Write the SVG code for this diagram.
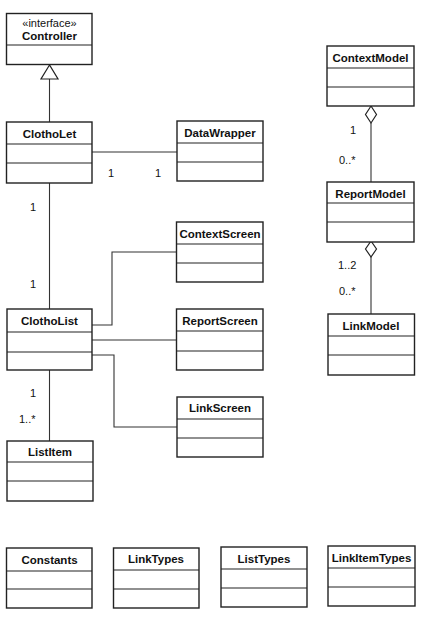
<svg xmlns="http://www.w3.org/2000/svg" width="426" height="627" viewBox="0 0 426 627">
<style>
.box{fill:#fff;stroke:#222;stroke-width:1.4}
.div{stroke:#222;stroke-width:1.2}
.nm{font-family:"Liberation Sans",Arial,sans-serif;font-weight:bold;font-size:11.5px;fill:#111;text-anchor:middle}
.st{font-family:"Liberation Sans",Arial,sans-serif;font-size:11px;fill:#111;text-anchor:middle}
.lb{font-family:"Liberation Sans",Arial,sans-serif;font-size:11px;fill:#111}
.ln{fill:none;stroke:#333;stroke-width:1.1}
</style>
<rect width="426" height="627" fill="#fff"/>
<g id="connectors">
<line class="ln" x1="49.5" y1="79" x2="49.5" y2="122"/>
<polygon points="49.5,65 41,79 58,79" fill="#fff" stroke="#222" stroke-width="1.2"/>
<line class="ln" x1="92" y1="152" x2="177" y2="152"/>
<line class="ln" x1="49.5" y1="183" x2="49.5" y2="309"/>
<polyline class="ln" points="92,325 112,325 112,252 176,252"/>
<line class="ln" x1="92" y1="340" x2="176" y2="340"/>
<polyline class="ln" points="92,355 114,355 114,427 177,427"/>
<line class="ln" x1="49.5" y1="370" x2="49.5" y2="441"/>
<line class="ln" x1="371" y1="123" x2="371" y2="182"/>
<polygon points="371,106 376.5,114.5 371,123 365.5,114.5" fill="#fff" stroke="#222" stroke-width="1.2"/>
<line class="ln" x1="371" y1="257" x2="371" y2="314"/>
<polygon points="371,241 376.5,249 371,257 365.5,249" fill="#fff" stroke="#222" stroke-width="1.2"/>
<text class="lb" x="108" y="177">1</text>
<text class="lb" x="155" y="177">1</text>
<text class="lb" x="30" y="211">1</text>
<text class="lb" x="30" y="288">1</text>
<text class="lb" x="30" y="397">1</text>
<text class="lb" x="19" y="423">1..*</text>
<text class="lb" x="350" y="134">1</text>
<text class="lb" x="339" y="164">0..*</text>
<text class="lb" x="338" y="269">1..2</text>
<text class="lb" x="339" y="295">0..*</text>
</g>
<g id="Controller">
<rect class="box" x="6.5" y="13.5" width="85.5" height="51"/>
<line class="div" x1="6.5" y1="45" x2="92" y2="45"/>
<text class="st" x="49.5" y="27">«interface»</text>
<text class="nm" x="49.5" y="40">Controller</text>
</g>
<g id="ClothoLet">
<rect class="box" x="6.5" y="122" width="85.5" height="61"/>
<line class="div" x1="6.5" y1="144" x2="92" y2="144"/>
<line class="div" x1="6.5" y1="163" x2="92" y2="163"/>
<text class="nm" x="49.5" y="137.5">ClothoLet</text>
</g>
<g id="DataWrapper">
<rect class="box" x="177" y="121" width="86" height="60"/>
<line class="div" x1="177" y1="143" x2="263" y2="143"/>
<line class="div" x1="177" y1="162" x2="263" y2="162"/>
<text class="nm" x="220" y="136.5">DataWrapper</text>
</g>
<g id="ContextModel">
<rect class="box" x="327" y="46" width="87" height="60"/>
<line class="div" x1="327" y1="68" x2="414" y2="68"/>
<line class="div" x1="327" y1="87" x2="414" y2="87"/>
<text class="nm" x="370.5" y="61.5">ContextModel</text>
</g>
<g id="ReportModel">
<rect class="box" x="327" y="182" width="87" height="60"/>
<line class="div" x1="327" y1="203" x2="414" y2="203"/>
<line class="div" x1="327" y1="222" x2="414" y2="222"/>
<text class="nm" x="370.5" y="197.5">ReportModel</text>
</g>
<g id="LinkModel">
<rect class="box" x="328" y="314" width="86.5" height="61"/>
<line class="div" x1="328" y1="336" x2="414.5" y2="336"/>
<line class="div" x1="328" y1="355" x2="414.5" y2="355"/>
<text class="nm" x="371" y="329.5">LinkModel</text>
</g>
<g id="ContextScreen">
<rect class="box" x="176.5" y="222" width="86.5" height="60"/>
<line class="div" x1="176.5" y1="244" x2="263" y2="244"/>
<line class="div" x1="176.5" y1="263" x2="263" y2="263"/>
<text class="nm" x="220" y="237.5">ContextScreen</text>
</g>
<g id="ClothoList">
<rect class="box" x="7" y="309" width="85" height="61"/>
<line class="div" x1="7" y1="332" x2="92" y2="332"/>
<line class="div" x1="7" y1="352" x2="92" y2="352"/>
<text class="nm" x="49.5" y="324.5">ClothoList</text>
</g>
<g id="ReportScreen">
<rect class="box" x="176.5" y="309" width="86.5" height="61"/>
<line class="div" x1="176.5" y1="331" x2="263" y2="331"/>
<line class="div" x1="176.5" y1="351" x2="263" y2="351"/>
<text class="nm" x="220" y="324.5">ReportScreen</text>
</g>
<g id="LinkScreen">
<rect class="box" x="177" y="397" width="86" height="60"/>
<line class="div" x1="177" y1="419" x2="263" y2="419"/>
<line class="div" x1="177" y1="438" x2="263" y2="438"/>
<text class="nm" x="220" y="412">LinkScreen</text>
</g>
<g id="ListItem">
<rect class="box" x="7" y="441" width="86" height="60"/>
<line class="div" x1="7" y1="462" x2="93" y2="462"/>
<line class="div" x1="7" y1="481" x2="93" y2="481"/>
<text class="nm" x="50" y="456">ListItem</text>
</g>
<g id="Constants">
<rect class="box" x="6.5" y="548" width="85.5" height="60"/>
<line class="div" x1="6.5" y1="571" x2="92" y2="571"/>
<line class="div" x1="6.5" y1="589" x2="92" y2="589"/>
<text class="nm" x="49.5" y="563.5">Constants</text>
</g>
<g id="LinkTypes">
<rect class="box" x="113.5" y="548" width="85.5" height="60"/>
<line class="div" x1="113.5" y1="570" x2="199" y2="570"/>
<line class="div" x1="113.5" y1="589" x2="199" y2="589"/>
<text class="nm" x="156" y="563">LinkTypes</text>
</g>
<g id="ListTypes">
<rect class="box" x="221" y="547" width="86" height="60"/>
<line class="div" x1="221" y1="569" x2="307" y2="569"/>
<line class="div" x1="221" y1="588" x2="307" y2="588"/>
<text class="nm" x="264" y="562.5">ListTypes</text>
</g>
<g id="LinkItemTypes">
<rect class="box" x="328" y="546" width="87" height="60"/>
<line class="div" x1="328" y1="568" x2="415" y2="568"/>
<line class="div" x1="328" y1="587" x2="415" y2="587"/>
<text class="nm" x="371.5" y="561.5">LinkItemTypes</text>
</g>
</svg>
